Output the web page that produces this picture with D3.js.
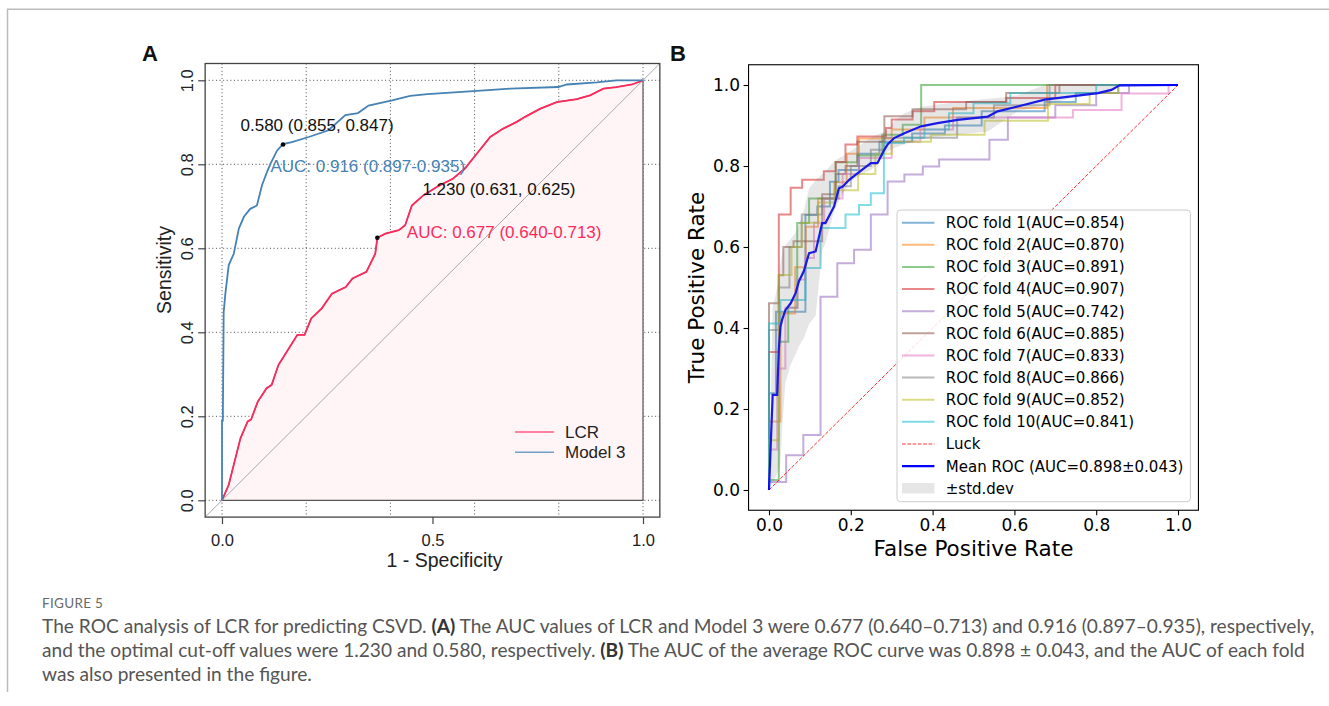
<!DOCTYPE html>
<html>
<head>
<meta charset="utf-8">
<script src="https://cdn.jsdelivr.net/npm/d3@7"></script>
<style>
body { margin: 0; background: #fff; }
svg { display: block; }
.gridA { stroke: #4a4a4a; stroke-width: 1; stroke-dasharray: 1,2.6; }
</style>
</head>
<body>
<svg id="fig" width="1329" height="706"></svg>
<script>
// ---------- panel A : pROC curves ----------
var lcrRoc = [[0,0],[0.016,0.037],[0.028,0.085],[0.044,0.148],[0.061,0.188],[0.069,0.192],[0.085,0.235],
  [0.106,0.267],[0.118,0.275],[0.134,0.322],[0.159,0.362],[0.179,0.394],[0.196,0.394],[0.212,0.433],
  [0.237,0.457],[0.261,0.492],[0.294,0.508],[0.31,0.528],[0.343,0.544],[0.364,0.587],[0.369,0.625],
  [0.388,0.635],[0.42,0.643],[0.435,0.655],[0.451,0.702],[0.478,0.726],[0.51,0.746],[0.549,0.766],
  [0.577,0.79],[0.605,0.825],[0.637,0.865],[0.668,0.885],[0.70,0.901],[0.72,0.913],[0.755,0.932],
  [0.795,0.948],[0.843,0.955],[0.874,0.964],[0.906,0.98],[0.937,0.984],[0.974,0.99],[1,1]];

var model3Roc = [[0,0],[0,0.19],[0.002,0.19],[0.004,0.448],[0.008,0.492],[0.016,0.56],[0.028,0.587],
  [0.04,0.647],[0.052,0.675],[0.067,0.694],[0.083,0.702],[0.095,0.75],[0.107,0.782],[0.115,0.801],
  [0.131,0.833],[0.145,0.848],[0.166,0.853],[0.206,0.865],[0.253,0.881],[0.293,0.917],[0.323,0.922],
  [0.348,0.94],[0.404,0.952],[0.447,0.963],[0.488,0.967],[0.597,0.974],[0.684,0.98],[0.799,0.984],
  [0.819,0.99],[0.89,0.995],[0.937,1],[1,1]];

var lcrCut = [1.230, 0.631, 0.625];      // threshold, specificity, sensitivity
var model3Cut = [0.580, 0.855, 0.847];
var lcrAuc = [0.677, 0.640, 0.713];
var model3Auc = [0.916, 0.897, 0.935];
var legendA = ["LCR", "Model 3"];
var ticksAx = [0, 0.5, 1];
var ticksAy = [0, 0.2, 0.4, 0.6, 0.8, 1];
var gridA = [0, 0.2, 0.4, 0.6, 0.8, 1];

// ---------- panel B : 10-fold cross validation ----------
var fold1 = [[0,0],[0,0.239],[0.017,0.239],[0.017,0.44],[0.089,0.44],[0.089,0.679],[0.118,0.679],[0.118,0.7],
  [0.149,0.7],[0.149,0.761],[0.17,0.761],[0.17,0.79],[0.22,0.79],[0.22,0.83],[0.27,0.83],[0.27,0.86],
  [0.35,0.86],[0.35,0.88],[0.43,0.88],[0.43,0.9],[0.52,0.9],[0.52,0.935],[0.674,0.935],[0.674,0.958],
  [0.75,0.958],[0.75,0.98],[0.854,0.98],[0.854,1],[1,1]];
var fold2 = [[0,0],[0,0.169],[0.028,0.169],[0.028,0.436],[0.064,0.436],[0.064,0.55],[0.09,0.55],[0.09,0.65],
  [0.12,0.65],[0.12,0.72],[0.16,0.72],[0.16,0.76],[0.19,0.76],[0.19,0.83],[0.22,0.83],[0.22,0.868],
  [0.3,0.868],[0.3,0.89],[0.38,0.89],[0.38,0.92],[0.45,0.92],[0.45,0.943],[0.68,0.943],[0.68,1],[1,1]];
var fold3 = [[0,0],[0,0.025],[0.024,0.025],[0.024,0.366],[0.047,0.366],[0.047,0.45],[0.069,0.45],[0.069,0.659],
  [0.098,0.659],[0.098,0.72],[0.163,0.72],[0.163,0.809],[0.216,0.809],[0.216,0.826],[0.277,0.826],
  [0.277,0.877],[0.327,0.877],[0.327,0.902],[0.372,0.902],[0.372,1],[1,1]];
var fold4 = [[0,0],[0,0.341],[0.024,0.341],[0.024,0.68],[0.053,0.68],[0.053,0.746],[0.081,0.746],[0.081,0.766],
  [0.134,0.766],[0.134,0.787],[0.163,0.787],[0.163,0.81],[0.187,0.81],[0.187,0.853],[0.216,0.853],
  [0.216,0.873],[0.286,0.873],[0.286,0.894],[0.3,0.894],[0.3,0.915],[0.351,0.915],[0.351,0.935],
  [0.404,0.935],[0.404,0.958],[0.58,0.958],[0.58,0.968],[0.7,0.968],[0.7,1],[1,1]];
var fold5 = [[0,0],[0,0.02],[0.042,0.02],[0.042,0.086],[0.084,0.086],[0.084,0.136],[0.126,0.136],[0.126,0.477],
  [0.167,0.477],[0.167,0.56],[0.208,0.56],[0.208,0.593],[0.249,0.593],[0.249,0.68],[0.29,0.68],[0.29,0.762],
  [0.331,0.762],[0.331,0.779],[0.376,0.779],[0.376,0.799],[0.416,0.799],[0.416,0.816],[0.539,0.816],
  [0.539,0.865],[0.584,0.865],[0.584,0.92],[0.7,0.92],[0.7,0.95],[0.8,0.95],[0.8,0.98],[0.88,0.98],[0.88,1],[1,1]];
var fold6 = [[0,0],[0,0.461],[0.024,0.461],[0.024,0.53],[0.035,0.53],[0.035,0.6],[0.06,0.6],[0.06,0.614],
  [0.13,0.614],[0.13,0.73],[0.163,0.73],[0.163,0.78],[0.187,0.78],[0.187,0.8],[0.216,0.8],[0.216,0.86],
  [0.282,0.86],[0.282,0.923],[0.351,0.923],[0.351,0.94],[0.482,0.94],[0.482,0.958],[0.58,0.958],[0.58,0.98],
  [0.71,0.98],[0.71,1],[1,1]];
var fold7 = [[0,0],[0,0.1],[0.02,0.1],[0.02,0.3],[0.04,0.3],[0.04,0.45],[0.07,0.45],[0.07,0.52],[0.089,0.52],
  [0.089,0.573],[0.11,0.573],[0.11,0.66],[0.135,0.66],[0.135,0.72],[0.18,0.72],[0.18,0.78],[0.22,0.78],
  [0.22,0.82],[0.3,0.82],[0.3,0.86],[0.37,0.86],[0.37,0.89],[0.45,0.89],[0.45,0.92],[0.743,0.92],
  [0.743,0.938],[0.862,0.938],[0.862,0.979],[0.977,0.979],[0.977,1],[1,1]];
var fold8 = [[0,0],[0,0.395],[0.024,0.395],[0.024,0.5],[0.05,0.5],[0.05,0.6],[0.08,0.6],[0.08,0.68],[0.13,0.68],
  [0.13,0.72],[0.17,0.72],[0.17,0.75],[0.2,0.75],[0.2,0.8],[0.249,0.8],[0.249,0.84],[0.282,0.84],[0.282,0.87],
  [0.46,0.87],[0.46,0.92],[0.55,0.92],[0.55,0.95],[0.686,0.95],[0.686,1],[1,1]];
var fold9 = [[0,0],[0,0.123],[0.024,0.123],[0.024,0.531],[0.055,0.531],[0.055,0.6],[0.08,0.6],[0.08,0.66],
  [0.12,0.66],[0.12,0.71],[0.16,0.71],[0.16,0.74],[0.218,0.74],[0.218,0.78],[0.26,0.78],[0.26,0.83],
  [0.3,0.83],[0.3,0.86],[0.396,0.86],[0.396,0.877],[0.527,0.877],[0.527,0.912],[0.682,0.912],[0.682,0.953],
  [0.784,0.953],[0.784,0.98],[0.854,0.98],[0.854,1],[1,1]];
var fold10 = [[0,0],[0,0.411],[0.028,0.411],[0.028,0.469],[0.089,0.469],[0.089,0.548],[0.126,0.548],[0.126,0.647],
  [0.187,0.647],[0.187,0.68],[0.22,0.68],[0.22,0.704],[0.249,0.704],[0.249,0.733],[0.281,0.733],[0.281,0.857],
  [0.33,0.857],[0.33,0.87],[0.38,0.87],[0.38,0.89],[0.44,0.89],[0.44,0.93],[0.5,0.93],[0.5,0.955],
  [0.59,0.955],[0.59,0.98],[0.8,0.98],[0.8,1],[1,1]];
var foldRocs = [fold1, fold2, fold3, fold4, fold5, fold6, fold7, fold8, fold9, fold10];
var foldAuc = [0.854, 0.870, 0.891, 0.907, 0.742, 0.885, 0.833, 0.866, 0.852, 0.841];
var luckLine = [[0, 0], [1, 1]];

var meanFpr = [0,0.009,0.02,0.024,0.028,0.032,0.04,0.053,0.065,0.073,0.085,0.098,0.114,0.13,0.138,0.159,
  0.171,0.18,0.196,0.228,0.249,0.265,0.282,0.29,0.306,0.331,0.372,0.412,0.461,0.535,0.559,0.608,0.674,
  0.739,0.804,0.837,0.857,1];
var meanTpr = [0,0.235,0.235,0.346,0.403,0.42,0.444,0.461,0.486,0.515,0.54,0.585,0.589,0.659,0.659,0.7,
  0.745,0.749,0.766,0.791,0.807,0.807,0.84,0.853,0.869,0.881,0.898,0.906,0.914,0.922,0.935,0.947,0.964,
  0.972,0.98,0.988,0.999,1];
var stdUpper = [0,0.45,0.5,0.53,0.56,0.58,0.605,0.62,0.635,0.655,0.69,0.745,0.765,0.78,0.787,0.811,
  0.82,0.824,0.835,0.855,0.87,0.878,0.885,0.89,0.91,0.93,0.946,0.952,0.958,0.966,0.968,0.975,1,
  1,1,1,1,1];
var stdLower = [0,0.02,0.04,0.05,0.07,0.15,0.265,0.31,0.335,0.355,0.375,0.41,0.43,0.59,0.61,0.688,
  0.715,0.73,0.76,0.78,0.79,0.805,0.83,0.835,0.845,0.853,0.866,0.872,0.877,0.885,0.902,0.935,0.95,
  0.968,0.978,0.985,0.997,1];
var meanAuc = 0.898, stdAuc = 0.043;
var ticksB = [0, 0.2, 0.4, 0.6, 0.8, 1];

// ---------- caption ----------
var captionTitle = "FIGURE 5";
var captionLines = [
  [["The ROC analysis of LCR for predicting CSVD. ", 0], ["(A)", 1], [" The AUC values of LCR and Model 3 were 0.677 (0.640\u20130.713) and 0.916 (0.897\u20130.935), respectively,", 0]],
  [["and the optimal cut-off values were 1.230 and 0.580, respectively. ", 0], ["(B)", 1], [" The AUC of the average ROC curve was 0.898 \u00b1 0.043, and the AUC of each fold", 0]],
  [["was also presented in the figure.", 0]]
];

var svg = d3.select("#fig");
svg.append("rect").attr("width", 1329).attr("height", 706).attr("fill", "#fff");
// page frame
svg.append("path").attr("d", "M7.5,692 V9.2 H1329").attr("fill", "none")
  .attr("stroke", "#bcbcbc").attr("stroke-width", 1.5);

drawPanelA();
drawPanelB();
drawCaption();

function drawPanelA() {
  var fontA = '"Liberation Sans", Arial, Helvetica, sans-serif';
  var x = d3.scaleLinear().domain([0, 1]).range([222, 643]);
  var y = d3.scaleLinear().domain([0, 1]).range([500.3, 80.3]);
  var lo = -0.04, hi = 1.04;
  var g = svg.append("g").attr("font-family", fontA);
  var line = d3.line().x(function(d){ return x(d[0]); }).y(function(d){ return y(d[1]); });

  // dotted grid
  gridA.forEach(function(v) {
    g.append("line").attr("class", "gridA").attr("x1", x(v)).attr("x2", x(v)).attr("y1", y(hi)).attr("y2", y(lo));
    g.append("line").attr("class", "gridA").attr("x1", x(lo)).attr("x2", x(hi)).attr("y1", y(v)).attr("y2", y(v));
  });

  // auc polygon of LCR
  var poly = lcrRoc.concat([[1, 0], [0, 0]]);
  g.append("path").attr("d", line(poly) + "Z").attr("fill", "#fff5f6")
    .attr("stroke", "#555").attr("stroke-width", 1.2);

  // identity line
  g.append("line").attr("x1", x(lo)).attr("y1", y(lo)).attr("x2", x(hi)).attr("y2", y(hi))
    .attr("stroke", "#a9a9a9").attr("stroke-width", 1);

  g.append("path").attr("d", line(lcrRoc)).attr("fill", "none").attr("stroke", "#ff2a5c").attr("stroke-width", 1.8);
  g.append("path").attr("d", line(model3Roc)).attr("fill", "none").attr("stroke", "#4682b4").attr("stroke-width", 1.8);

  // optimal cut-off points
  [lcrCut, model3Cut].forEach(function(c) {
    g.append("circle").attr("cx", x(1 - c[1])).attr("cy", y(c[2])).attr("r", 2.3).attr("fill", "#000");
  });

  var f3 = d3.format(".3f");
  g.append("text").attr("x", x(0.044)).attr("y", y(0.88)).attr("font-size", 17).attr("fill", "#111")
    .text(f3(model3Cut[0]) + " (" + f3(model3Cut[1]) + ", " + f3(model3Cut[2]) + ")");
  g.append("text").attr("x", x(0.115)).attr("y", y(0.782)).attr("font-size", 17).attr("fill", "#4682b4")
    .text("AUC: " + f3(model3Auc[0]) + " (" + f3(model3Auc[1]) + "-" + f3(model3Auc[2]) + ")");
  g.append("text").attr("x", x(0.476)).attr("y", y(0.726)).attr("font-size", 17).attr("fill", "#111")
    .text(f3(lcrCut[0]) + " (" + f3(lcrCut[1]) + ", " + f3(lcrCut[2]) + ")");
  g.append("text").attr("x", x(0.439)).attr("y", y(0.625)).attr("font-size", 17).attr("fill", "#ff2a5c")
    .text("AUC: " + f3(lcrAuc[0]) + " (" + f3(lcrAuc[1]) + "-" + f3(lcrAuc[2]) + ")");

  // box
  g.append("rect").attr("x", x(lo)).attr("y", y(hi)).attr("width", x(hi) - x(lo)).attr("height", y(lo) - y(hi))
    .attr("fill", "none").attr("stroke", "#444").attr("stroke-width", 1.3);

  // axes
  var xa = g.append("g").attr("transform", "translate(0," + y(lo) + ")")
    .call(d3.axisBottom(x).tickValues(ticksAx).tickFormat(d3.format(".1f")).tickSize(7).tickPadding(10));
  var ya = g.append("g").attr("transform", "translate(" + x(lo) + ",0)")
    .call(d3.axisLeft(y).tickValues(ticksAy).tickFormat(d3.format(".1f")).tickSize(7));
  [xa, ya].forEach(function(a) {
    a.select(".domain").remove();
    a.attr("font-family", fontA).attr("font-size", 16.5);
    a.selectAll(".tick line").attr("stroke", "#444").attr("stroke-width", 1.2);
    a.selectAll(".tick text").attr("fill", "#222");
  });
  ya.selectAll(".tick text").attr("transform", "rotate(-90)").attr("x", 0).attr("y", -12)
    .attr("dy", 0).attr("text-anchor", "middle");

  g.append("text").attr("x", 444.5).attr("y", 567).attr("text-anchor", "middle").attr("font-size", 19.5)
    .attr("fill", "#222").text("1 - Specificity");
  g.append("text").attr("transform", "translate(171,270) rotate(-90)").attr("text-anchor", "middle")
    .attr("font-size", 19.5).attr("fill", "#222").text("Sensitivity");

  // legend
  var lcol = ["#ff2a5c", "#4682b4"];
  legendA.forEach(function(t, i) {
    var ly = 432 + i * 20.3;
    g.append("line").attr("x1", 515).attr("x2", 554).attr("y1", ly).attr("y2", ly)
      .attr("stroke", lcol[i]).attr("stroke-width", 1.5).attr("stroke-opacity", 0.75);
    g.append("text").attr("x", 565).attr("y", ly).attr("dy", "0.36em").attr("font-size", 17)
      .attr("fill", "#222").text(t);
  });

  g.append("text").attr("x", 142).attr("y", 61).attr("font-size", 22).attr("font-weight", "bold")
    .attr("fill", "#111").text("A");
}

function drawPanelB() {
  var fontB = '"DejaVu Sans", Verdana, sans-serif';
  var x = d3.scaleLinear().domain([0, 1]).range([769, 1178]);
  var y = d3.scaleLinear().domain([0, 1]).range([490, 85]);
  var lo = -0.05, hi = 1.05;
  var g = svg.append("g").attr("font-family", fontB);
  var line = d3.line().x(function(d){ return x(d[0]); }).y(function(d){ return y(d[1]); });
  var colors = d3.schemeCategory10;

  svg.append("clipPath").attr("id", "clipB").append("rect")
    .attr("x", x(lo)).attr("y", y(hi)).attr("width", x(hi) - x(lo)).attr("height", y(lo) - y(hi));
  var plot = g.append("g").attr("clip-path", "url(#clipB)");

  foldRocs.forEach(function(f, i) {
    plot.append("path").attr("d", line(f)).attr("fill", "none").attr("stroke", colors[i])
      .attr("stroke-width", 2).attr("stroke-opacity", 0.55);
  });
  plot.append("line")
    .attr("x1", x(luckLine[0][0])).attr("y1", y(luckLine[0][1]))
    .attr("x2", x(luckLine[1][0])).attr("y2", y(luckLine[1][1]))
    .attr("stroke", "#ff0000").attr("stroke-opacity", 0.8).attr("stroke-width", 1)
    .attr("stroke-dasharray", "3.7,1.6");
  var meanPts = meanFpr.map(function(v, i){ return [v, meanTpr[i]]; });
  plot.append("path").attr("d", line(meanPts)).attr("fill", "none").attr("stroke", "#0000ff").attr("stroke-width", 2.2);
  var area = d3.area().x(function(d, i){ return x(meanFpr[i]); })
    .y0(function(d, i){ return y(stdLower[i]); }).y1(function(d, i){ return y(stdUpper[i]); });
  plot.append("path").attr("d", area(meanFpr)).attr("fill", "#808080").attr("fill-opacity", 0.2);

  // spines
  g.append("rect").attr("x", x(lo)).attr("y", y(hi)).attr("width", x(hi) - x(lo)).attr("height", y(lo) - y(hi))
    .attr("fill", "none").attr("stroke", "#000").attr("stroke-width", 1.1);

  var xa = g.append("g").attr("transform", "translate(0," + y(lo) + ")")
    .call(d3.axisBottom(x).tickValues(ticksB).tickFormat(d3.format(".1f")).tickSize(5).tickPadding(4));
  var ya = g.append("g").attr("transform", "translate(" + x(lo) + ",0)")
    .call(d3.axisLeft(y).tickValues(ticksB).tickFormat(d3.format(".1f")).tickSize(5).tickPadding(3.5));
  [xa, ya].forEach(function(a) {
    a.select(".domain").remove();
    a.attr("font-family", fontB).attr("font-size", 17);
    a.selectAll(".tick line").attr("stroke", "#000").attr("stroke-width", 1.1);
    a.selectAll(".tick text").attr("fill", "#000");
  });

  g.append("text").attr("x", (x(lo) + x(hi)) / 2).attr("y", 556).attr("text-anchor", "middle")
    .attr("font-size", 21.5).text("False Positive Rate");
  g.append("text").attr("transform", "translate(704," + ((y(lo) + y(hi)) / 2) + ") rotate(-90)")
    .attr("text-anchor", "middle").attr("font-size", 21.5).text("True Positive Rate");

  // legend (lower right)
  var lg = g.append("g");
  lg.append("rect").attr("x", 897).attr("y", 210).attr("width", 293.4).attr("height", 291.7).attr("rx", 3.5)
    .attr("fill", "#fff").attr("fill-opacity", 0.8).attr("stroke", "#cccccc").attr("stroke-width", 1);
  var labels = foldAuc.map(function(a, i){ return "ROC fold " + (i + 1) + "(AUC=" + a.toFixed(3) + ")"; });
  labels.push("Luck", "Mean ROC (AUC=" + meanAuc.toFixed(3) + "\u00b1" + stdAuc.toFixed(3) + ")", "\u00b1std.dev");
  labels.forEach(function(t, i) {
    var ly = 222.7 + i * 22.13;
    if (i < 10) {
      lg.append("line").attr("x1", 902).attr("x2", 934.4).attr("y1", ly).attr("y2", ly)
        .attr("stroke", colors[i]).attr("stroke-width", 2).attr("stroke-opacity", 0.55);
    } else if (i === 10) {
      lg.append("line").attr("x1", 902).attr("x2", 934.4).attr("y1", ly).attr("y2", ly)
        .attr("stroke", "#ff0000").attr("stroke-opacity", 0.8).attr("stroke-width", 1).attr("stroke-dasharray", "3.7,1.6");
    } else if (i === 11) {
      lg.append("line").attr("x1", 902).attr("x2", 934.4).attr("y1", ly).attr("y2", ly)
        .attr("stroke", "#0000ff").attr("stroke-width", 2.2);
    } else {
      lg.append("rect").attr("x", 902).attr("y", ly - 5.2).attr("width", 32.4).attr("height", 10.4)
        .attr("fill", "#808080").attr("fill-opacity", 0.2);
    }
    lg.append("text").attr("x", 945.8).attr("y", ly).attr("dy", "0.36em").attr("font-size", 15)
      .attr("fill", "#000").text(t);
  });

  g.append("text").attr("x", 670).attr("y", 61).attr("font-family", '"Liberation Sans", Arial, sans-serif')
    .attr("font-size", 22).attr("font-weight", "bold").attr("fill", "#111").text("B");
}

function drawCaption() {
  var g = svg.append("g").attr("font-family", 'Lato, "Open Sans", sans-serif');
  g.append("text").attr("x", 42).attr("y", 608).attr("font-size", 13.5).attr("font-weight", 400)
    .attr("fill", "#6a6a6a").attr("letter-spacing", 0.3).text(captionTitle);
  var texts = captionLines.map(function(parts, i) {
    var t = g.append("text").attr("x", 42).attr("y", 633 + i * 24).attr("font-size", 17.5).attr("fill", "#555");
    parts.forEach(function(p) {
      t.append("tspan").attr("font-weight", p[1] ? 700 : 400).attr("fill", p[1] ? "#333" : null).text(p[0]);
    });
    return t;
  });
  // fit the first line to its width in the figure, same size for all lines
  var w = texts[0].node().getComputedTextLength();
  var size = 17.5 * 1274 / w;
  texts.forEach(function(t){ t.attr("font-size", size); });
}
</script>
</body>
</html>
